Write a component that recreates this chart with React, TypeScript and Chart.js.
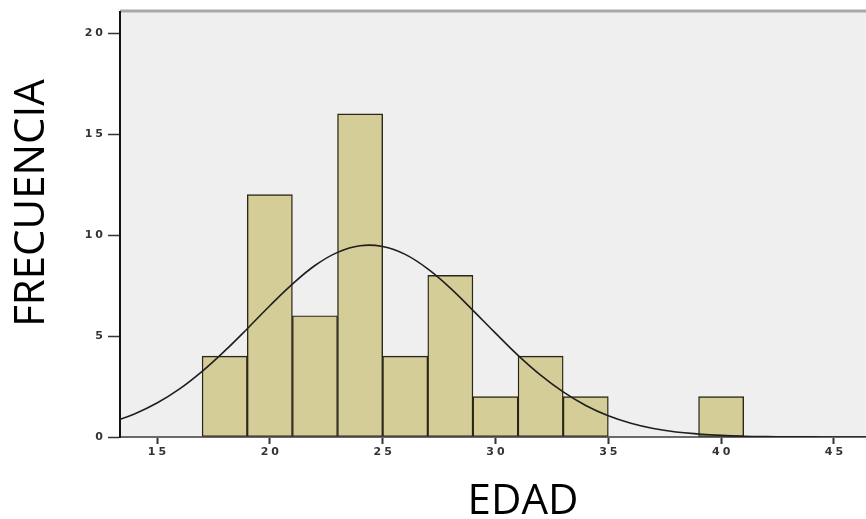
import React, { useEffect, useRef } from "react";
import { Chart, registerables } from "chart.js";

Chart.register(...registerables);

// Histogram bins (age ranges of width 2) – centers and frequencies
const binCenters = [18, 20, 22, 24, 26, 28, 30, 32, 34, 40];
const frequencies = [4, 12, 6, 16, 4, 8, 2, 4, 2, 2];

// Fitted normal curve
const curveAges = [13, 14, 15, 16, 17, 18, 19, 20, 21, 22, 23, 24, 25, 26, 27, 28, 29, 30, 31, 32, 33, 34, 35, 36, 37, 38, 39, 40, 41, 42, 43, 44, 45, 46, 47];
const curveFreq = [0.74, 1.14, 1.68, 2.38, 3.25, 4.26, 5.36, 6.5, 7.57, 8.49, 9.14, 9.47, 9.43, 9.04, 8.32, 7.37, 6.27, 5.14, 4.04, 3.06, 2.23, 1.56, 1.05, 0.68, 0.42, 0.25, 0.15, 0.08, 0.04, 0.02, 0.01, 0.005, 0.002, 0.001, 0.0];

const xTicks = [15, 20, 25, 30, 35, 40, 45];
const yTicks = [0, 5, 10, 15, 20];

const xTitle = "EDAD";
const yTitle = "FRECUENCIA";

export default function App() {
  const ref = useRef<HTMLCanvasElement | null>(null);

  useEffect(() => {
    const canvas = ref.current;
    if (!canvas) return;

    const bgPlugin = {
      id: "bgPlugin",
      beforeDraw(chart: any) {
        const { ctx, chartArea } = chart;
        ctx.save();
        ctx.fillStyle = "#efefef";
        ctx.fillRect(chartArea.left, chartArea.top, chartArea.right - chartArea.left, chartArea.bottom - chartArea.top);
        ctx.strokeStyle = "#a9a9a9";
        ctx.lineWidth = 3;
        ctx.beginPath();
        ctx.moveTo(chartArea.left, chartArea.top - 1);
        ctx.lineTo(chartArea.right, chartArea.top - 1);
        ctx.stroke();
        ctx.restore();
        (ctx as any).letterSpacing = "3px";
      },
      afterDraw(chart: any) {
        const { ctx } = chart;
        ctx.save();
        (ctx as any).letterSpacing = "0px";
        ctx.fillStyle = "#000";
        ctx.font = '42px "Open Sans"';
        ctx.textAlign = "center";
        ctx.textBaseline = "alphabetic";
        ctx.fillText(xTitle, 523, 514);
        ctx.translate(44, 203);
        ctx.rotate(-Math.PI / 2);
        ctx.fillText(yTitle, 0, 0);
        ctx.restore();
      },
    };

    const chart = new Chart(canvas, {
      type: "bar",
      data: {
        datasets: [
          {
            type: "line",
            data: curveAges.map((x, i) => ({ x, y: curveFreq[i] })),
            borderColor: "#1e1e1e",
            borderWidth: 1.6,
            pointRadius: 0,
            tension: 0.4,
            fill: false,
            order: 0,
          } as any,
          {
            type: "bar",
            data: binCenters.map((x, i) => ({ x, y: frequencies[i] })),
            backgroundColor: "#d4cd98",
            borderColor: "#2a2618",
            borderWidth: 1.4,
            borderSkipped: false,
            barPercentage: 1,
            categoryPercentage: 1,
            order: 1,
          } as any,
        ],
      },
      options: {
        responsive: false,
        animation: false,
        layout: { padding: { top: 12, right: 0, left: 0, bottom: 0 } },
        plugins: { legend: { display: false }, tooltip: { enabled: false } },
        scales: {
          x: {
            type: "linear",
            offset: false,
            min: 13.36,
            max: 46.42,
            afterFit: (s: any) => { s.height = 82; },
            afterBuildTicks: (s: any) => { s.ticks = xTicks.map((v) => ({ value: v })); },
            grid: { display: true, offset: false, drawOnChartArea: false, drawTicks: true, tickLength: 7, tickColor: "#333", tickWidth: 2 },
            border: { display: true, color: "#6a6a6a", width: 2 },
            ticks: {
              padding: 2,
              labelOffset: 1.5,
              maxRotation: 0,
              autoSkip: false,
              color: "#333",
              font: { family: "DejaVu Sans", size: 11, weight: "bold" },
            },
          },
          y: {
            type: "linear",
            min: 0,
            max: 21.04,
            afterFit: (s: any) => { s.width = 120; },
            afterBuildTicks: (s: any) => { s.ticks = yTicks.map((v) => ({ value: v })); },
            grid: { display: true, drawOnChartArea: false, drawTicks: true, tickLength: 12, tickColor: "#333", tickWidth: 1.5 },
            border: { display: true, color: "#111", width: 2 },
            ticks: {
              padding: 2,
              color: "#333",
              font: { family: "DejaVu Sans", size: 11, weight: "bold" },
            },
          },
        },
      },
      plugins: [bgPlugin],
    });

    return () => chart.destroy();
  }, []);

  return (
    <div style={{ position: "fixed", left: 0, top: 0, width: 866, height: 519, background: "#fff" }}>
      <canvas ref={ref} width={866} height={519} style={{ width: 866, height: 519 }} />
    </div>
  );
}
